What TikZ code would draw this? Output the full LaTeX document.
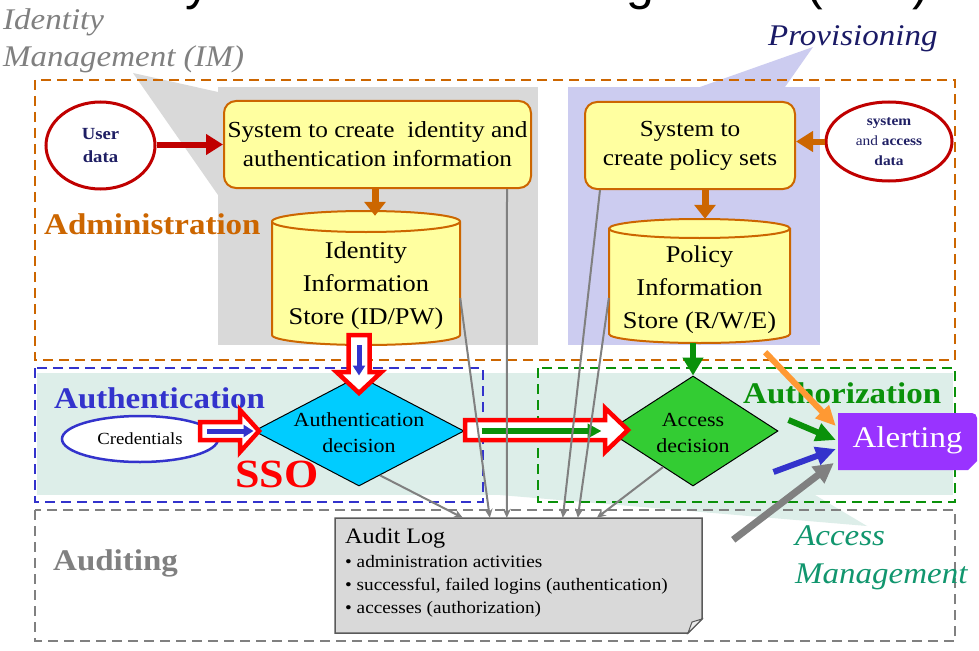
\documentclass[tikz,border=0pt]{standalone}
\usepackage{fontspec}
\setmainfont{Liberation Serif}[FakeStretch=1.1]
\newfontfamily\titlefont{Liberation Sans}
\usetikzlibrary{arrows.meta,shapes.geometric,calc}
\definecolor{orn}{RGB}{204,102,0}
\definecolor{ylw}{RGB}{255,255,160}
\definecolor{imgray}{RGB}{217,217,217}
\definecolor{lav}{RGB}{204,204,240}
\definecolor{band}{RGB}{221,238,233}
\definecolor{dred}{RGB}{192,0,0}
\definecolor{navy}{RGB}{31,31,100}
\definecolor{bl}{RGB}{51,51,204}
\definecolor{grn}{RGB}{10,145,10}
\definecolor{grnfill}{RGB}{51,204,51}
\definecolor{cyn}{RGB}{0,204,255}
\definecolor{purp}{RGB}{153,51,255}
\definecolor{gry}{RGB}{128,128,128}
\definecolor{auditfill}{RGB}{217,217,217}
\definecolor{auditline}{RGB}{90,90,90}
\definecolor{foldgray}{RGB}{235,235,235}
\definecolor{amteal}{RGB}{17,150,110}
\definecolor{orarrow}{RGB}{255,153,51}
\definecolor{provnavy}{RGB}{26,26,102}
\begin{document}
\begin{tikzpicture}[x=1pt,y=-1pt,
  ybox/.style={rectangle, rounded corners=12pt, draw=orn, line width=2pt, fill=ylw, align=center, inner sep=0pt, font=\fontsize{23}{29}\selectfont},
  cyltext/.style={align=center, inner sep=0pt, font=\fontsize{24}{33}\selectfont},
  cylbody/.style={draw=orn, line width=2pt, fill=ylw},
  region/.style={line width=2.8pt, dash pattern=on 10pt off 6pt},
  lbl/.style={inner sep=0pt, anchor=base west, font=\bfseries\fontsize{30}{36}\selectfont},
  ital/.style={inner sep=0pt, anchor=base west, font=\itshape\fontsize{30}{36}\selectfont},
  dtext/.style={align=center, inner sep=0pt, font=\fontsize{20}{26}\selectfont},
  auditarrow/.style={draw=gry, line width=2pt, -{Stealth[length=9pt,width=8pt]}},
  hollow/.style={draw=red, line width=4.5pt, fill=white, line join=miter},
  fat/.style={line width=6pt, -{Triangle[length=17pt,width=20pt]}},
  audtext/.style={anchor=base west, inner sep=0pt, font=\fontsize{17.5}{22}\selectfont},
  titletext/.style={anchor=base west, inner sep=0pt, font=\titlefont\fontsize{50}{60}\selectfont},
]
\useasboundingbox (0,0) rectangle (979,650);
\fill[white] (0,0) rectangle (979,650);

% cut-off title (only its descenders are inside the picture)
\begin{scope}
\clip (0,0) rectangle (979,650);
\node[titletext] (title1) at (49,-0.5) {Identity and Access};
\node[titletext] (title2) at (501,-0.5) {Management (IAM)};
\end{scope}

% callout backgrounds
\fill[imgray] (133,73) -- (218,92) -- (218,195) -- cycle;
\fill[imgray] (218,87) rectangle (538,345);
\fill[lav] (813,47) -- (785,87) -- (700,87) -- cycle;
\fill[lav] (568,87) rectangle (820,345);
\fill[band] (37,373) rectangle (953,495);
\fill[band] (500,495) -- (815,495) -- (867,526) -- cycle;

% region boxes
\draw[region, orn] (35,80) rectangle (955,360);
\draw[region, bl] (35,368) rectangle (483,502);
\draw[region, grn] (538,368) rectangle (955,502);
\draw[region, gry] (35,510) rectangle (955,641);

% region labels
\node[lbl, text=orn] (adminlbl) at (44,234) {Administration};
\node[lbl, text=bl] (authnlbl) at (54,408) {Authentication};
\node[lbl, text=grn] (authzlbl) at (743,403) {Authorization};
\node[lbl, text=gry] (auditlbl) at (53,570) {Auditing};

% callout labels
\node[ital, text=gry] (imlbl1) at (3,30) {Identity};
\node[ital, text=gry] (imlbl2) at (3,67) {Management (IM)};
\node[ital, text=provnavy] (provlbl) at (768,46) {Provisioning};
\node[ital, text=amteal] (amlbl1) at (795,545) {Access};
\node[ital, text=amteal] (amlbl2) at (795,583) {Management};

% administration
\node[ellipse, draw=dred, line width=3pt, fill=white, minimum width=109pt, minimum height=87pt, inner sep=0pt, align=center, text=navy, font=\bfseries\fontsize{17}{23}\selectfont] (userdata) at (100.5,145.5) {User\\data};
\node[ellipse, draw=dred, line width=3pt, fill=white, minimum width=126pt, minimum height=79pt, inner sep=0pt, align=center, text=navy, font=\fontsize{14}{20}\selectfont] (sysdata) at (889,141.5) {\textbf{system}\\and \textbf{access}\\\textbf{data}};
\node[ybox, minimum width=307pt, minimum height=87pt] (box1) at (377.5,144.5) {System to create\ \ identity and\\authentication information};
\node[ybox, minimum width=210pt, minimum height=87pt] (box2) at (690,145.5) {System to\\create policy sets};

% cylinders
\path[cylbody] (272,221.5) -- (272,335) arc[start angle=180, end angle=360, x radius=94pt, y radius=10pt] -- (460,221.5) arc[start angle=0, end angle=180, x radius=94pt, y radius=10.5pt] -- cycle;
\draw[orn, line width=2pt] (272,221.5) arc[start angle=180, end angle=360, x radius=94pt, y radius=10.5pt];
\node[minimum width=188pt, minimum height=134pt, inner sep=0pt] (cyl1) at (366,278) {};
\node[cyltext] (cyl1txt) at (366,286) {Identity\\Information\\Store (ID/PW)};

\path[cylbody] (609,228.5) -- (609,334) arc[start angle=180, end angle=360, x radius=90.5pt, y radius=9pt] -- (790,228.5) arc[start angle=0, end angle=180, x radius=90.5pt, y radius=9.5pt] -- cycle;
\draw[orn, line width=2pt] (609,228.5) arc[start angle=180, end angle=360, x radius=90.5pt, y radius=9.5pt];
\node[minimum width=181pt, minimum height=124pt, inner sep=0pt] (cyl2) at (699.5,281) {};
\node[cyltext] (cyl2txt) at (699.5,290) {Policy\\Information\\Store (R/W/E)};

% admin arrows
\draw[dred, fat] (userdata.east |- box1.west) -- (box1.west);
\draw[orn, line width=7pt, -{Triangle[length=14pt,width=21pt]}] ($(box1.south)+(-2.5,0)$) -- ($(cyl1.north)+(9,5)$);
\draw[orn, fat] (sysdata.west) -- (box2.east |- sysdata.west);
\draw[orn, line width=7pt, -{Triangle[length=14pt,width=21pt]}] ($(box2.south)+(15,0)$) -- ($(cyl2.north)+(5.5,0)$);

% decision diamonds
\node[diamond, draw=black, line width=1pt, fill=cyn, minimum width=210pt, minimum height=110pt, inner sep=0pt] (authdec) at (359,431) {};
\node[dtext] (authdectxt) at (359,433) {Authentication\\decision};
\node[diamond, draw=black, line width=1pt, fill=grnfill, minimum width=170pt, minimum height=110pt, inner sep=0pt] (accdec) at (693,431) {};
\node[dtext] (accdectxt) at (693,433) {Access\\decision};

\node[ellipse, draw=bl, line width=2.5pt, fill=white, minimum width=156pt, minimum height=46pt, inner sep=0pt, font=\fontsize{17}{20}\selectfont] (cred) at (140,439) {Credentials};

\node[lbl, text=red, font=\bfseries\fontsize{40}{46}\selectfont] (sso) at (235,487) {SSO};

% green arrow policy store -> access decision
\draw[grn, line width=6pt, -{Triangle[length=18pt,width=20pt]}] (cyl2.south -| accdec.north) -- (accdec.north);

% SSO hollow arrows with inner arrows
\path[hollow] (348.5,335) -- (369.5,335) -- (369.5,372) -- (381.5,372) -- (359,393) -- (336.5,372) -- (348.5,372) -- cycle;
\draw[bl, line width=5pt, -{Triangle[length=10pt,width=12pt]}] (authdec.north |- cyl1.south) -- (authdec.north);

\path[hollow] (200,422) -- (240,422) -- (240,410) -- (259,431) -- (240,452) -- (240,440) -- (200,440) -- cycle;
\draw[bl, line width=5pt, -{Triangle[length=10pt,width=12pt]}] ($(cred.east |- authdec.west)+(-12,0)$) -- (authdec.west);

\path[hollow] (465,420) -- (605,420) -- (605,408) -- (628,430) -- (605,452) -- (605,440) -- (465,440) -- cycle;
\draw[grn, line width=6pt, -{Triangle[length=14pt,width=14pt]}] ($(authdec.east)+(17,0)$) -- ($(accdec.west)+(-6,0)$);

% Alerting
\fill[purp] (838,413) -- (972,413) to[out=0,in=90] (977,418) -- (977,461) -- (968,470) -- (838,470) -- cycle;
\node[inner sep=0pt, text=white, font=\fontsize{30}{36}\selectfont, minimum width=139pt, minimum height=57pt] (alert) at (907.5,440) {Alerting};

% Audit log
\path[draw=auditline, line width=1.5pt, fill=auditfill] (335,518) -- (702,518) -- (702,619) -- (688,633) -- (335,633) -- cycle;
\path[draw=auditline, line width=1pt, fill=foldgray] (688,633) -- (692,622) -- (702,619) -- cycle;
\node[minimum width=367pt, minimum height=115pt, inner sep=0pt] (audit) at (518.5,575.5) {};
\node[anchor=base west, inner sep=0pt, font=\fontsize{22}{26}\selectfont] (alogt) at (345,543) {Audit Log};
\node[audtext] (alog1) at (345,567) {• administration activities};
\node[audtext] (alog2) at (345,590) {• successful, failed logins (authentication)};
\node[audtext] (alog3) at (345,613) {• accesses (authorization)};

% arrows to audit log
\draw[auditarrow] ($(authdec.south)!0.2!(authdec.east)$) -- ($(audit.north west)+(128,0)$);
\draw[auditarrow] ($(cyl1.east)+(0,20)$) -- ($(audit.north west)+(155,0)$);
\draw[auditarrow] ($(box1.south)+(129.5,0)$) -- ($(audit.north west)+(172,0)$);
\draw[auditarrow] ($(box2.south)+(-90,0)$) -- ($(audit.north west)+(228,0)$);
\draw[auditarrow] ($(cyl2.west)+(0,17)$) -- ($(audit.north west)+(243,0)$);
\draw[auditarrow] ($(accdec.south)!0.35!(accdec.west)$) -- ($(audit.north west)+(262,0)$);

% arrows to alerting
\draw[orarrow, line width=6pt, -{Triangle[length=20pt,width=18pt]}] ($(cyl2.south east)+(-25,9)$) -- ($(alert.west)+(-2,-14)$);
\draw[grn, line width=6pt, -{Triangle[length=20pt,width=18pt]}] ($(accdec.east)+(10,-11)$) -- ($(alert.west)+(-2,0)$);
\draw[bl, line width=6pt, -{Triangle[length=20pt,width=18pt]}] ($(accdec.east)+(-5,41)$) -- ($(alert.west)+(-2,9)$);
\draw[gry, line width=7pt, -{Triangle[length=20pt,width=20pt]}] ($(audit.north east)+(31,22)$) -- ($(alert.west)+(-4,23)$);
\end{tikzpicture}
\end{document}
